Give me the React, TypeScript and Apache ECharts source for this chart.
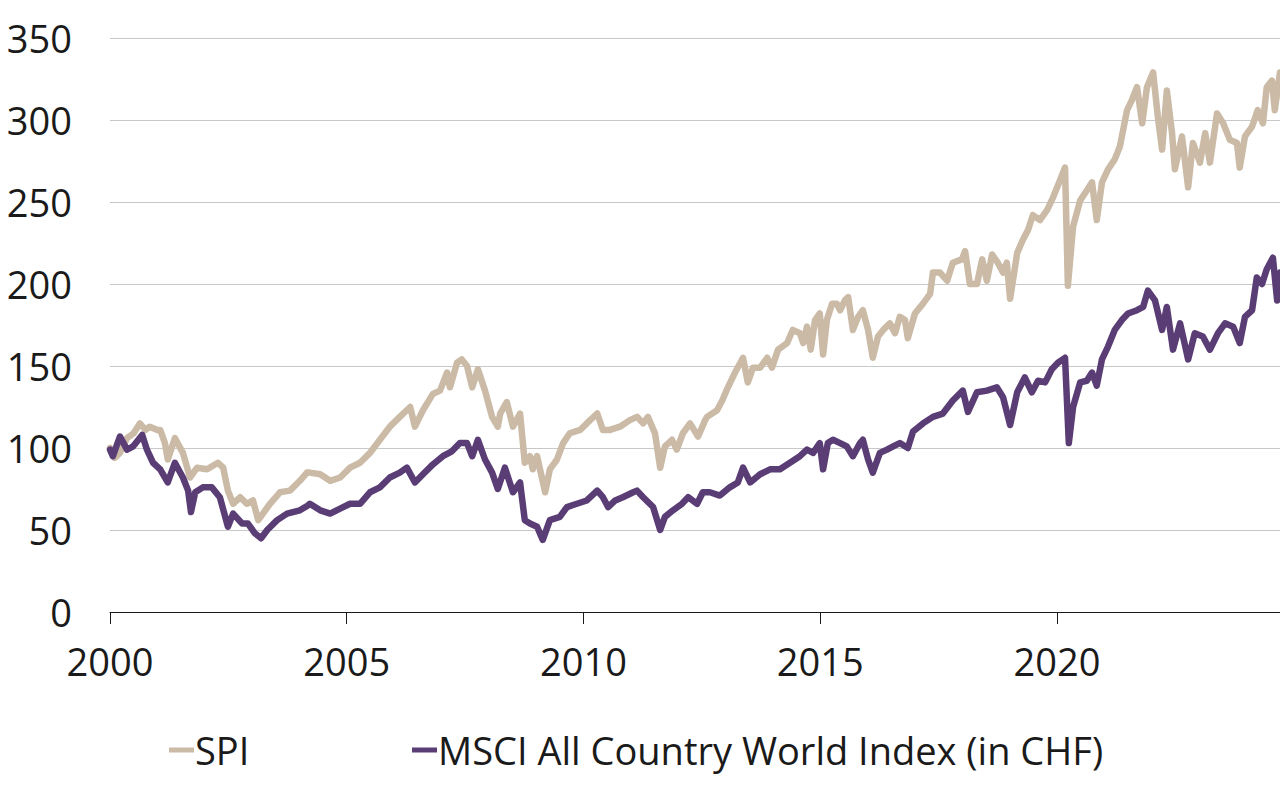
import React, { useEffect, useRef } from "react";
import * as echarts from "echarts";

const yearTicks = [2000, 2005, 2010, 2015, 2020];

const spiDates = [
  2000.0, 2000.1, 2000.21, 2000.36, 2000.5, 2000.63, 2000.75, 2000.84, 2001.0, 2001.06, 2001.16, 2001.22, 2001.37, 2001.54,
  2001.69, 2001.84, 2002.05, 2002.28, 2002.39, 2002.49, 2002.6, 2002.75, 2002.89, 2003.02, 2003.13, 2003.23, 2003.38, 2003.59,
  2003.8, 2004.01, 2004.16, 2004.22, 2004.44, 2004.65, 2004.86, 2005.07, 2005.28, 2005.49, 2005.7, 2005.91, 2006.12, 2006.34,
  2006.44, 2006.61, 2006.82, 2006.97, 2007.12, 2007.18, 2007.33, 2007.43, 2007.54, 2007.65, 2007.77, 2007.92, 2008.07, 2008.19,
  2008.24, 2008.38, 2008.51, 2008.66, 2008.76, 2008.87, 2008.93, 2009.02, 2009.19, 2009.29, 2009.44, 2009.57, 2009.71, 2009.93,
  2010.14, 2010.29, 2010.41, 2010.56, 2010.77, 2010.98, 2011.13, 2011.26, 2011.36, 2011.51, 2011.62, 2011.72, 2011.87, 2011.97,
  2012.1, 2012.25, 2012.42, 2012.57, 2012.61, 2012.82, 2012.93, 2013.05, 2013.2, 2013.37, 2013.47, 2013.58, 2013.73, 2013.88,
  2013.98, 2014.11, 2014.3, 2014.42, 2014.57, 2014.64, 2014.72, 2014.8, 2014.89, 2014.99, 2015.06, 2015.14, 2015.25, 2015.35,
  2015.42, 2015.52, 2015.59, 2015.69, 2015.8, 2015.9, 2016.01, 2016.11, 2016.22, 2016.33, 2016.47, 2016.58, 2016.68, 2016.79,
  2016.85, 2017.0, 2017.17, 2017.32, 2017.38, 2017.53, 2017.68, 2017.8, 2017.99, 2018.06, 2018.16, 2018.31, 2018.42, 2018.52,
  2018.63, 2018.75, 2018.86, 2018.94, 2019.01, 2019.16, 2019.28, 2019.39, 2019.49, 2019.64, 2019.79, 2019.92, 2020.06, 2020.17,
  2020.23, 2020.34, 2020.49, 2020.63, 2020.74, 2020.84, 2020.95, 2021.08, 2021.22, 2021.33, 2021.48, 2021.58, 2021.69, 2021.8,
  2021.9, 2022.03, 2022.13, 2022.22, 2022.32, 2022.43, 2022.49, 2022.64, 2022.77, 2022.87, 2023.02, 2023.13, 2023.23, 2023.38,
  2023.51, 2023.65, 2023.8, 2023.86, 2023.97, 2024.12, 2024.24, 2024.35, 2024.43, 2024.54, 2024.6, 2024.71,
];
const spiValues = [
  100, 94, 97, 106, 109, 115, 111, 113, 111, 111, 103, 93, 106, 97,
  82, 88, 87, 91, 88, 74, 66, 70, 66, 68, 56, 60, 66, 73,
  74, 80, 85, 85, 84, 80, 82, 88, 91, 97, 105, 113, 119, 125,
  113, 123, 133, 135, 146, 137, 152, 154, 150, 137, 148, 135, 119, 113,
  121, 128, 113, 121, 91, 95, 87, 95, 73, 87, 93, 103, 109, 111,
  117, 121, 111, 111, 113, 117, 119, 115, 119, 109, 88, 101, 105, 99,
  109, 115, 107, 117, 119, 123, 129, 137, 146, 155, 140, 149, 149, 155,
  149, 160, 164, 172, 170, 164, 174, 160, 178, 182, 157, 178, 188, 188,
  184, 190, 192, 172, 180, 184, 172, 155, 168, 172, 176, 170, 180, 178,
  167, 182, 188, 194, 207, 207, 202, 213, 215, 220, 200, 200, 215, 202,
  218, 213, 207, 213, 191, 219, 227, 233, 242, 239, 245, 253, 263, 271,
  199, 235, 251, 257, 262, 239, 262, 270, 276, 284, 306, 312, 320, 298,
  320, 329, 302, 282, 318, 292, 270, 290, 259, 286, 274, 292, 274, 304,
  298, 288, 286, 271, 290, 296, 306, 298, 320, 324, 306, 329,
];

const msciDates = [
  2000.0, 2000.06, 2000.21, 2000.36, 2000.49, 2000.68, 2000.78, 2000.91, 2001.06, 2001.22, 2001.37, 2001.54, 2001.65, 2001.71,
  2001.8, 2001.96, 2002.15, 2002.32, 2002.49, 2002.6, 2002.79, 2002.91, 2003.06, 2003.19, 2003.32, 2003.53, 2003.74, 2004.01,
  2004.18, 2004.22, 2004.44, 2004.65, 2004.86, 2005.07, 2005.28, 2005.49, 2005.7, 2005.91, 2006.12, 2006.27, 2006.44, 2006.61,
  2006.82, 2007.03, 2007.22, 2007.39, 2007.54, 2007.65, 2007.77, 2007.92, 2008.07, 2008.19, 2008.34, 2008.51, 2008.66, 2008.76,
  2008.87, 2009.02, 2009.14, 2009.29, 2009.5, 2009.65, 2009.86, 2010.07, 2010.29, 2010.41, 2010.52, 2010.67, 2010.83, 2011.05,
  2011.13, 2011.26, 2011.47, 2011.62, 2011.72, 2011.89, 2012.08, 2012.21, 2012.4, 2012.52, 2012.67, 2012.88, 2013.09, 2013.26,
  2013.37, 2013.52, 2013.73, 2013.94, 2014.15, 2014.36, 2014.57, 2014.72, 2014.85, 2014.99, 2015.06, 2015.16, 2015.27, 2015.42,
  2015.56, 2015.69, 2015.84, 2015.9, 2016.01, 2016.11, 2016.26, 2016.41, 2016.54, 2016.68, 2016.85, 2016.96, 2017.17, 2017.38,
  2017.59, 2017.8, 2018.01, 2018.12, 2018.31, 2018.52, 2018.73, 2018.86, 2019.01, 2019.16, 2019.32, 2019.47, 2019.6, 2019.75,
  2019.89, 2020.02, 2020.17, 2020.25, 2020.34, 2020.49, 2020.63, 2020.74, 2020.84, 2020.95, 2021.08, 2021.22, 2021.37, 2021.5,
  2021.69, 2021.82, 2021.92, 2022.07, 2022.22, 2022.32, 2022.45, 2022.6, 2022.77, 2022.91, 2023.08, 2023.23, 2023.4, 2023.55,
  2023.72, 2023.86, 2023.97, 2024.12, 2024.22, 2024.33, 2024.43, 2024.56, 2024.65, 2024.71,
];
const msciValues = [
  99, 95, 107, 99, 101, 108, 99, 91, 87, 79, 91, 82, 74, 61,
  73, 76, 76, 70, 52, 60, 54, 54, 48, 45, 50, 56, 60, 62,
  65, 66, 62, 60, 63, 66, 66, 73, 76, 82, 85, 88, 79, 84,
  90, 95, 98, 103, 103, 95, 105, 93, 85, 75, 88, 73, 79, 56,
  54, 52, 44, 56, 58, 64, 66, 68, 74, 70, 64, 68, 70, 73,
  74, 70, 64, 50, 58, 62, 66, 70, 66, 73, 73, 71, 76, 79,
  88, 79, 84, 87, 87, 91, 95, 99, 97, 103, 87, 103, 105, 103,
  101, 95, 103, 105, 93, 85, 97, 99, 101, 103, 100, 110, 115, 119,
  121, 129, 135, 122, 134, 135, 137, 131, 114, 134, 143, 134, 141, 140,
  148, 152, 155, 103, 125, 140, 141, 146, 138, 154, 162, 172, 178, 182,
  184, 186, 196, 190, 172, 186, 160, 176, 154, 170, 168, 160, 170, 176,
  174, 164, 180, 184, 204, 200, 209, 216, 190, 207,
];

const seriesNames = ["SPI", "MSCI All Country World Index (in CHF)"];
const seriesColors = ["#CBBAA6", "#5B3D76"];

const FONT = "Open Sans";

export default function App() {
  const ref = useRef<HTMLDivElement>(null);

  useEffect(() => {
    if (!ref.current) return;
    const chart = echarts.init(ref.current, null, { renderer: "svg" });
    const spiData = spiDates.map((d, i) => [d, spiValues[i]]);
    const msciData = msciDates.map((d, i) => [d, msciValues[i]]);

    const legendBase = {
      orient: "horizontal" as const,
      top: 726,
      itemWidth: 25,
      itemHeight: 5,
      icon: "rect",
      selectedMode: false,
      textStyle: { fontFamily: FONT, fontSize: 38, color: "#1a1a1a", padding: [0, 0, 0, -4] },
    };

    chart.setOption({
      animation: false,
      backgroundColor: "#ffffff",
      grid: { left: 110, right: 0, top: 38, bottom: 188, containLabel: false },
      legend: [
        { ...legendBase, left: 164, data: [seriesNames[0]] },
        { ...legendBase, left: 407, data: [seriesNames[1]] },
      ],
      xAxis: {
        type: "value",
        min: 2000,
        max: 2024.71,
        interval: 5,
        axisLine: { show: true, lineStyle: { color: "#1a1a1a", width: 1 } },
        axisTick: {
          show: true,
          length: 12,
          inside: false,
          lineStyle: { color: "#1a1a1a", width: 1 },
          customValues: yearTicks,
        },
        splitLine: { show: false },
        axisLabel: {
          customValues: yearTicks,
          formatter: (v: number) => String(v),
          fontFamily: FONT,
          fontSize: 38,
          color: "#1a1a1a",
          margin: 30,
        },
      },
      yAxis: {
        type: "value",
        min: 0,
        max: 350,
        interval: 50,
        axisLine: { show: false },
        axisTick: { show: false },
        splitLine: { show: true, lineStyle: { color: "#c8c8c8", width: 1 } },
        axisLabel: {
          fontFamily: FONT,
          fontSize: 38,
          color: "#1a1a1a",
          margin: 38,
        },
      },
      series: [
        {
          name: seriesNames[0],
          type: "line",
          data: spiData,
          showSymbol: false,
          color: seriesColors[0],
          lineStyle: { color: seriesColors[0], width: 6.5, join: "round", cap: "round" },
        },
        {
          name: seriesNames[1],
          type: "line",
          data: msciData,
          showSymbol: false,
          color: seriesColors[1],
          lineStyle: { color: seriesColors[1], width: 6.5, join: "round", cap: "round" },
        },
      ],
    });
    return () => chart.dispose();
  }, []);

  return (
    <div
      ref={ref}
      style={{ position: "fixed", left: 0, top: 0, width: 1280, height: 800, background: "#fff" }}
    />
  );
}
